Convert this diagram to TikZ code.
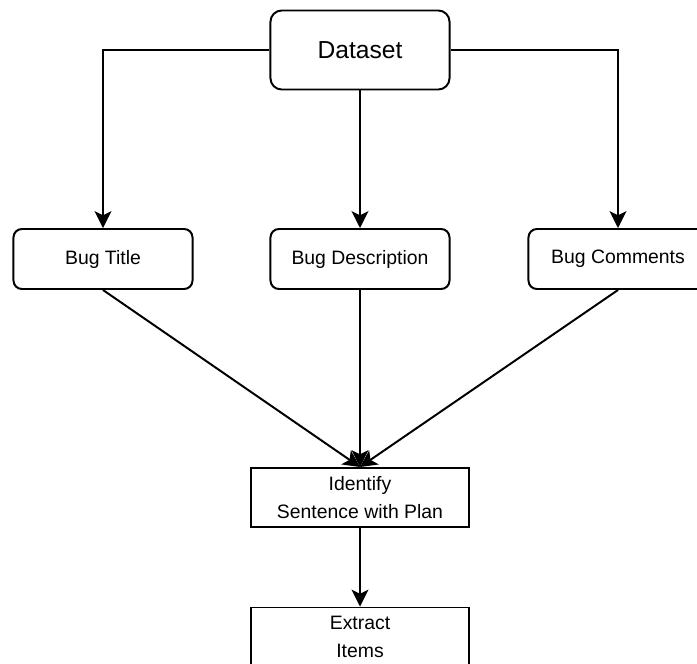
\documentclass[tikz,border=0pt]{standalone}
\usepackage{fontspec}
\setmainfont{Liberation Sans}
\usetikzlibrary{arrows.meta}

\begin{document}
\begin{tikzpicture}[x=0.025cm,y=-0.025cm,
  box/.style={draw,line width=1.4pt,rounded corners=6pt,minimum width=4.475cm,minimum height=1.5cm,font=\fontsize{13.8}{20}\selectfont},
  stepbox/.style={draw,line width=1.4pt,minimum width=5.45cm,minimum height=1.475cm,align=center,font=\fontsize{13.8}{20}\selectfont},
  arr/.style={line width=1.4pt,-{Stealth[length=12pt,width=12pt,inset=3pt]}}]
\useasboundingbox (0,0) rectangle (697,664);
\node[box,minimum height=1.975cm,rounded corners=8pt,font=\fontsize{17.5}{21}\selectfont] (dataset) at (360,50) {Dataset};
\node[box] (title) at (103,259) {Bug Title};
\node[box] (desc) at (360,259) {Bug Description};
\node[box] (comments) at (618,259) {Bug Comments};
\node[stepbox] (ident) at (360,497.5) {Identify\\Sentence with Plan};
\node[stepbox] (extract) at (360,637) {Extract\\Items};
% dataset to the three fields
\draw[arr] (dataset.west) -| (title.north);
\draw[arr] (dataset) -- (desc);
\draw[arr] (dataset.east) -| (comments.north);
% fields merge
\draw[arr] (title.south) -- (ident.north);
\draw[arr] (desc) -- (ident);
\draw[arr] (comments.south) -- (ident.north);
\draw[arr] (ident) -- (extract);
\end{tikzpicture}
\end{document}
